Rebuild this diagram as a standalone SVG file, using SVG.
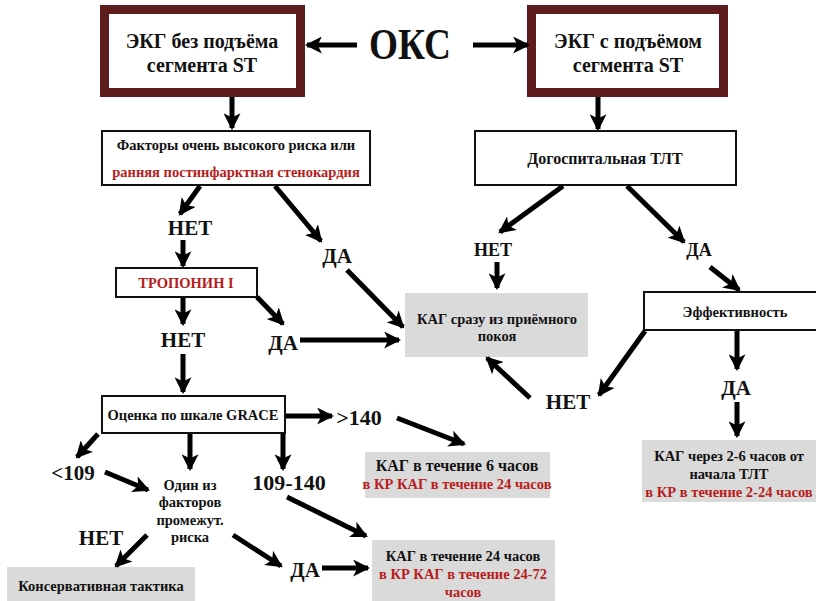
<svg xmlns="http://www.w3.org/2000/svg" width="816" height="601" viewBox="0 0 816 601">
<defs>
<marker id="ah" markerUnits="userSpaceOnUse" markerWidth="17" markerHeight="17" viewBox="0 0 16 16" refX="14" refY="8" orient="auto">
<path d="M0,0 L16,8 L0,16 L4,8 Z" fill="#000"/>
</marker>
<style>
.t{font-family:"Liberation Serif","Times New Roman",serif;font-weight:bold;text-anchor:middle;fill:#111}
.s{font-size:14.5px}
.m{font-size:20px}
.n{font-size:18px}
.l{font-size:21px}
.red{fill:#b81c1c}
.box{fill:#fff;stroke:#111;stroke-width:2}
.hb{fill:#fff;stroke:#5e1c1c;stroke-width:9}
.gray{fill:#dadada;stroke:none}
.c line{stroke:#000;stroke-width:5;marker-end:url(#ah)}
</style>
</defs>
<rect width="816" height="601" fill="#fff"/>
<g font-family="Liberation Serif, serif">
<g id="oks"><text class="t" x="410" y="59" font-size="44" textLength="82" lengthAdjust="spacingAndGlyphs">ОКС</text></g>

<g id="n-nst">
<rect class="hb" x="104.5" y="9.5" width="196" height="83"/>
<text class="t m" x="202" y="48">ЭКГ без подъёма</text>
<text class="t m" x="202" y="72">сегмента ST</text>
</g>
<g id="n-st">
<rect class="hb" x="531.5" y="9.5" width="192" height="83"/>
<text class="t m" x="628" y="48">ЭКГ с подъёмом</text>
<text class="t m" x="628" y="72">сегмента ST</text>
</g>
<g id="n-factors">
<rect class="box" x="102" y="131" width="268" height="54"/>
<text class="t s" x="236" y="150">Факторы очень высокого риска или</text>
<text class="t s red" x="236" y="177">ранняя постинфарктная стенокардия</text>
</g>
<g id="n-tlt">
<rect class="box" x="475" y="131" width="261" height="54"/>
<text class="t" font-size="16" x="605" y="164">Догоспитальная ТЛТ</text>
</g>
<g id="l-net1"><text class="t l" x="190" y="235">НЕТ</text></g>
<g id="l-da1"><text class="t l" x="337" y="263">ДА</text></g>
<g id="n-trop">
<rect class="box" x="116" y="268" width="141" height="29"/>
<text class="t s red" x="186" y="288">ТРОПОНИН I</text>
</g>
<g id="l-net2"><text class="t l" x="183" y="347">НЕТ</text></g>
<g id="l-da2"><text class="t l" x="283" y="350">ДА</text></g>
<g id="n-kag-now">
<rect class="gray" x="405" y="293" width="183" height="64"/>
<text class="t s" x="497" y="324">КАГ сразу из приёмного</text>
<text class="t s" x="497" y="341">покоя</text>
</g>
<g id="l-net3"><text class="t n" x="493" y="256">НЕТ</text></g>
<g id="l-da3"><text class="t n" x="699" y="256">ДА</text></g>
<g id="n-eff">
<rect class="box" x="644" y="292" width="180" height="38"/>
<text class="t s" x="735" y="317">Эффективность</text>
</g>
<g id="l-net4"><text class="t l" x="568" y="409">НЕТ</text></g>
<g id="l-da4"><text class="t l" x="736" y="395">ДА</text></g>
<g id="n-kag-26">
<rect class="gray" x="642" y="440" width="174" height="62"/>
<text class="t s" x="729" y="461">КАГ через 2-6 часов от</text>
<text class="t s" x="729" y="479">начала ТЛТ</text>
<text class="t s red" x="729" y="497">в КР в течение 2-24 часов</text>
</g>
<g id="n-grace">
<rect class="box" x="102" y="396" width="183" height="37"/>
<text class="t s" x="193" y="420">Оценка по шкале GRACE</text>
</g>
<g id="l-140"><text class="t" font-size="22" x="359" y="425">&gt;140</text></g>
<g id="n-kag-6">
<rect class="gray" x="365" y="452" width="185" height="46"/>
<text class="t" font-size="16" x="457" y="471">КАГ в течение 6 часов</text>
<text class="t s red" x="457" y="489">в КР КАГ в течение 24 часов</text>
</g>
<g id="l-109"><text class="t l" x="73" y="480">&lt;109</text></g>
<g id="n-one">
<text class="t s" x="190" y="490">Один из</text>
<text class="t s" x="190" y="507">факторов</text>
<text class="t s" x="190" y="525">промежут.</text>
<text class="t s" x="190" y="542">риска</text>
</g>
<g id="l-109-140"><text class="t" font-size="22" x="289" y="490">109-140</text></g>
<g id="l-net5"><text class="t l" x="101" y="545">НЕТ</text></g>
<g id="l-da5"><text class="t l" x="305" y="577">ДА</text></g>
<g id="n-cons">
<rect class="gray" x="7" y="567" width="188" height="40"/>
<text class="t s" x="101" y="591">Консервативная тактика</text>
</g>
<g id="n-kag-24">
<rect class="gray" x="372" y="540" width="183" height="65"/>
<text class="t s" x="463" y="561">КАГ в течение 24 часов</text>
<text class="t s red" x="463" y="579">в КР КАГ в течение 24-72</text>
<text class="t s red" x="463" y="597">часов</text>
</g>
</g>
<g id="connectors" class="c">
<line x1="357" y1="45" x2="307" y2="45"/>
<line x1="473" y1="45" x2="528" y2="45"/>
<line x1="232" y1="97" x2="232" y2="128"/>
<line x1="598" y1="97" x2="598" y2="129"/>
<line x1="200" y1="186" x2="180" y2="214"/>
<line x1="275" y1="186" x2="321" y2="241"/>
<line x1="183" y1="240" x2="183" y2="266"/>
<line x1="347" y1="270" x2="403" y2="327"/>
<line x1="183" y1="298" x2="183" y2="324"/>
<line x1="257" y1="297" x2="283" y2="324"/>
<line x1="300" y1="340" x2="399" y2="340"/>
<line x1="183" y1="354" x2="183" y2="392"/>
<line x1="563" y1="186" x2="500" y2="232"/>
<line x1="497" y1="262" x2="497" y2="288"/>
<line x1="627" y1="186" x2="684" y2="242"/>
<line x1="710" y1="267" x2="739" y2="290"/>
<line x1="737" y1="331" x2="737" y2="369"/>
<line x1="737" y1="402" x2="737" y2="436"/>
<line x1="645" y1="331" x2="599" y2="395"/>
<line x1="530" y1="398" x2="487" y2="358"/>
<line x1="286" y1="416" x2="332" y2="416"/>
<line x1="397" y1="418" x2="464" y2="444"/>
<line x1="98" y1="434" x2="77" y2="457"/>
<line x1="105" y1="472" x2="148" y2="490"/>
<line x1="190" y1="434" x2="190" y2="469"/>
<line x1="283" y1="434" x2="283" y2="469"/>
<line x1="287" y1="497" x2="366" y2="536"/>
<line x1="147" y1="535" x2="116" y2="566"/>
<line x1="233" y1="535" x2="281" y2="566"/>
<line x1="322" y1="568" x2="368" y2="568"/>
</g>
</svg>
